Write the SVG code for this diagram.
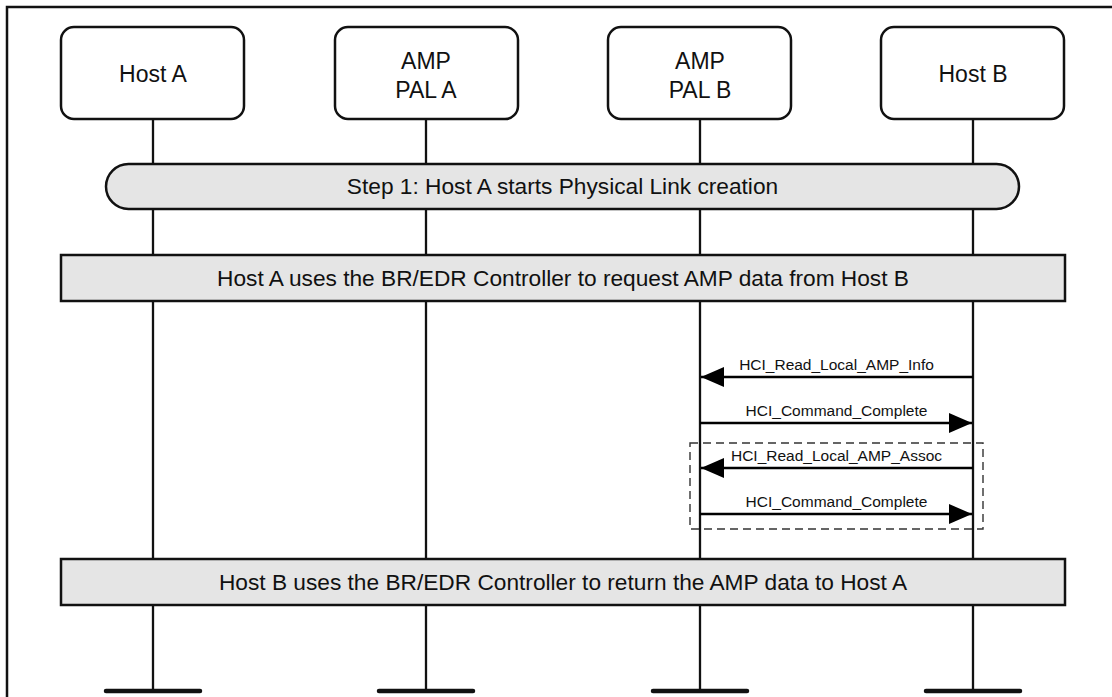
<svg xmlns="http://www.w3.org/2000/svg" width="1112" height="697" viewBox="0 0 1112 697">
  <defs>
    <style>
      .node { fill: #ffffff; stroke: #111111; stroke-width: 2.5; }
      .band { fill: #e5e5e5; stroke: #111111; stroke-width: 2.5; }
      .life { stroke: #111111; stroke-width: 2.3; fill: none; }
      .foot { stroke: #111111; stroke-width: 4.5; stroke-linecap: round; }
      .msg { stroke: #000000; stroke-width: 2.6; fill: none; }
      .big { font-family: "Liberation Sans", Arial, sans-serif; font-size: 23px; fill: #111111; text-anchor: middle; }
      .band-t { font-family: "Liberation Sans", Arial, sans-serif; font-size: 22.7px; fill: #111111; text-anchor: middle; }
      .lbl { font-family: "Liberation Sans", Arial, sans-serif; font-size: 15.5px; fill: #111111; text-anchor: middle; }
    </style>
    <marker id="head" markerUnits="userSpaceOnUse" markerWidth="24" markerHeight="20" refX="23" refY="10" orient="auto">
      <path d="M0,0 L23,10 L0,20 z" fill="#000000"/>
    </marker>
  </defs>
  <rect width="1112" height="697" fill="#ffffff"/>
  <path d="M7,697 V7 H1112" fill="none" stroke="#111111" stroke-width="2.5"/>

  <g id="lifelines">
    <line class="life" x1="153" y1="119" x2="153" y2="691"/>
    <line class="life" x1="426" y1="119" x2="426" y2="691"/>
    <line class="life" x1="700" y1="119" x2="700" y2="691"/>
    <line class="life" x1="973" y1="119" x2="973" y2="691"/>
    <line class="foot" x1="106" y1="691" x2="200" y2="691"/>
    <line class="foot" x1="379" y1="691" x2="473" y2="691"/>
    <line class="foot" x1="653" y1="691" x2="747" y2="691"/>
    <line class="foot" x1="926" y1="691" x2="1020" y2="691"/>
  </g>

  <g id="hostA">
    <rect class="node" x="61" y="27" width="183" height="92" rx="13"/>
    <text class="big" x="153" y="82">Host A</text>
  </g>
  <g id="palA">
    <rect class="node" x="335" y="27" width="183" height="92" rx="13"/>
    <text class="big" x="426" y="69">AMP</text>
    <text class="big" x="426" y="98">PAL A</text>
  </g>
  <g id="palB">
    <rect class="node" x="608" y="27" width="183" height="92" rx="13"/>
    <text class="big" x="700" y="69">AMP</text>
    <text class="big" x="700" y="98">PAL B</text>
  </g>
  <g id="hostB">
    <rect class="node" x="881" y="27" width="183" height="92" rx="13"/>
    <text class="big" x="973" y="82">Host B</text>
  </g>

  <g id="step1">
    <rect class="band" x="106" y="164" width="913" height="45" rx="22.5"/>
    <text class="band-t" x="562.5" y="194">Step 1: Host A starts Physical Link creation</text>
  </g>
  <g id="request">
    <rect class="band" x="61" y="255" width="1004" height="46"/>
    <text class="band-t" x="563" y="286">Host A uses the BR/EDR Controller to request AMP data from Host B</text>
  </g>
  <g id="assoc-frame">
    <rect x="690" y="443" width="293" height="86" fill="none" stroke="#333333" stroke-width="1.4" stroke-dasharray="8 5"/>
  </g>
  <g id="return">
    <rect class="band" x="61" y="559" width="1004" height="46"/>
    <text class="band-t" x="563" y="590">Host B uses the BR/EDR Controller to return the AMP data to Host A</text>
  </g>

  <g id="connectors">
    <line class="msg" x1="973" y1="377" x2="701" y2="377" marker-end="url(#head)"/>
    <text class="lbl" x="836.5" y="370">HCI_Read_Local_AMP_Info</text>
    <line class="msg" x1="700" y1="423" x2="972" y2="423" marker-end="url(#head)"/>
    <text class="lbl" x="836.5" y="416">HCI_Command_Complete</text>
    <line class="msg" x1="973" y1="468" x2="701" y2="468" marker-end="url(#head)"/>
    <text class="lbl" x="836.5" y="461">HCI_Read_Local_AMP_Assoc</text>
    <line class="msg" x1="700" y1="514" x2="972" y2="514" marker-end="url(#head)"/>
    <text class="lbl" x="836.5" y="507">HCI_Command_Complete</text>
  </g>
</svg>
